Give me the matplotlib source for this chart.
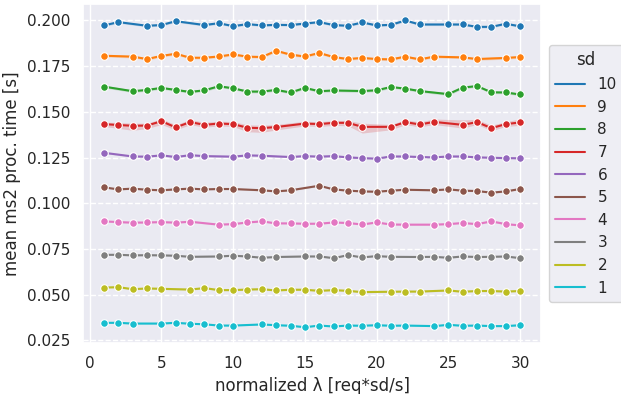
import numpy as np
import matplotlib
matplotlib.use("Agg")
import matplotlib.pyplot as plt
import seaborn as sns
from matplotlib.lines import Line2D

# x positions per sd (some lambda values missing per series)
x_sd10 = [1, 2, 4, 5, 6, 8, 9, 10, 11, 12, 13, 14, 15, 16, 17, 18, 19, 20, 21, 22, 23, 25, 26, 27, 28, 29, 30]
y_sd10 = [0.1973, 0.1991, 0.1971, 0.1975, 0.1996, 0.1975, 0.1985, 0.1969, 0.1980, 0.1973, 0.1976, 0.1975, 0.1983,
          0.1991, 0.1975, 0.1971, 0.1989, 0.1973, 0.1976, 0.2000, 0.1978, 0.1978, 0.1978, 0.1965, 0.1965, 0.1982, 0.1968]

x_sd9 = [1, 3, 4, 5, 6, 7, 8, 9, 10, 11, 12, 13, 14, 15, 16, 17, 18, 19, 20, 21, 22, 23, 24, 26, 27, 29, 30]
y_sd9 = [0.1807, 0.1802, 0.1789, 0.1806, 0.1818, 0.1796, 0.1796, 0.1803, 0.1814, 0.1802, 0.1800, 0.1834, 0.1813, 0.1803,
         0.1822, 0.1800, 0.1789, 0.1795, 0.1789, 0.1787, 0.1802, 0.1787, 0.1802, 0.1798, 0.1789, 0.1795, 0.1800]

x_sd8 = [1, 3, 4, 5, 6, 7, 8, 9, 10, 11, 12, 13, 14, 15, 16, 17, 19, 20, 21, 22, 23, 25, 26, 27, 28, 29, 30]
y_sd8 = [0.1638, 0.1613, 0.1620, 0.1631, 0.1620, 0.1609, 0.1618, 0.1640, 0.1629, 0.1611, 0.1611, 0.1620, 0.1606, 0.1631,
         0.1613, 0.1617, 0.1614, 0.1618, 0.1636, 0.1627, 0.1614, 0.1597, 0.1633, 0.1641, 0.1607, 0.1606, 0.1595]

x_sd7 = [1, 2, 3, 4, 5, 6, 7, 8, 9, 10, 11, 12, 13, 15, 16, 17, 18, 19, 21, 22, 23, 24, 26, 27, 28, 29, 30]
y_sd7 = [0.1433, 0.1428, 0.1424, 0.1425, 0.1449, 0.1415, 0.1444, 0.1429, 0.1436, 0.1433, 0.1413, 0.1411, 0.1417, 0.1436,
         0.1433, 0.1440, 0.1440, 0.1418, 0.1418, 0.1444, 0.1431, 0.1445, 0.1429, 0.1444, 0.1411, 0.1433, 0.1442]
# sd=7 has a wider confidence band (above / below the mean)
ci_hi_sd7 = [0.0011, 0.0014, 0.0014, 0.0013, 0.0013, 0.0014, 0.0014, 0.0014, 0.0013, 0.0014, 0.0016, 0.0016, 0.0014, 0.0013,
             0.0013, 0.0013, 0.0013, 0.0020, 0.0013, 0.0013, 0.0014, 0.0016, 0.0027, 0.0014, 0.0016, 0.0013, 0.0020]
ci_lo_sd7 = [0.0013, 0.0018, 0.0025, 0.0016, 0.0018, 0.0014, 0.0014, 0.0013, 0.0013, 0.0013, 0.0022, 0.0023, 0.0016, 0.0013,
             0.0013, 0.0014, 0.0016, 0.0034, 0.0016, 0.0014, 0.0013, 0.0014, 0.0018, 0.0013, 0.0014, 0.0013, 0.0016]

x_sd6 = [1, 3, 4, 5, 6, 7, 8, 10, 11, 12, 14, 15, 16, 17, 18, 19, 20, 21, 22, 23, 24, 25, 26, 27, 28, 29, 30]
y_sd6 = [0.1276, 0.1256, 0.1255, 0.1262, 0.1253, 0.1263, 0.1258, 0.1255, 0.1262, 0.1260, 0.1253, 0.1258,
         0.1255, 0.1258, 0.1251, 0.1247, 0.1244, 0.1256, 0.1256, 0.1253, 0.1251, 0.1256, 0.1256, 0.1251, 0.1249, 0.1247, 0.1246]

x_sd5 = [1, 2, 3, 4, 5, 6, 7, 8, 9, 10, 12, 13, 14, 16, 17, 18, 19, 20, 21, 22, 24, 25, 26, 27, 28, 29, 30]
y_sd5 = [0.1087, 0.1076, 0.1080, 0.1074, 0.1071, 0.1076, 0.1080, 0.1076, 0.1078, 0.1078, 0.1071, 0.1065, 0.1071,
         0.1096, 0.1076, 0.1069, 0.1065, 0.1063, 0.1069, 0.1074, 0.1071, 0.1076, 0.1069, 0.1067, 0.1058, 0.1065, 0.1078]

x_sd4 = [1, 2, 3, 4, 5, 6, 7, 9, 10, 11, 12, 13, 14, 15, 16, 17, 18, 19, 20, 21, 22, 24, 25, 26, 27, 28, 29, 30]
y_sd4 = [0.0901, 0.0897, 0.0894, 0.0895, 0.0897, 0.0894, 0.0899, 0.0883, 0.0886, 0.0895, 0.0901, 0.0890, 0.0890, 0.0888,
         0.0888, 0.0895, 0.0892, 0.0884, 0.0895, 0.0884, 0.0883, 0.0883, 0.0886, 0.0892, 0.0886, 0.0901, 0.0886, 0.0879]

x_sd3 = [1, 2, 3, 4, 5, 6, 7, 9, 10, 11, 12, 13, 15, 16, 17, 18, 19, 20, 21, 23, 24, 25, 26, 27, 28, 29, 30]
y_sd3 = [0.0718, 0.0718, 0.0715, 0.0716, 0.0715, 0.0713, 0.0707, 0.0709, 0.0713, 0.0709, 0.0702, 0.0706, 0.0709,
         0.0709, 0.0700, 0.0716, 0.0704, 0.0711, 0.0707, 0.0706, 0.0707, 0.0702, 0.0709, 0.0706, 0.0707, 0.0709, 0.0700]

x_sd2 = [1, 2, 3, 4, 5, 7, 8, 9, 10, 11, 12, 13, 14, 15, 16, 17, 18, 19, 21, 22, 23, 25, 26, 27, 28, 29, 30]
y_sd2 = [0.0539, 0.0541, 0.0530, 0.0534, 0.0532, 0.0528, 0.0536, 0.0525, 0.0525, 0.0528, 0.0530, 0.0523, 0.0527, 0.0527,
         0.0521, 0.0525, 0.0521, 0.0514, 0.0516, 0.0517, 0.0517, 0.0523, 0.0516, 0.0520, 0.0520, 0.0517, 0.0520]

x_sd1 = [1, 2, 3, 5, 6, 7, 8, 9, 10, 12, 13, 14, 15, 16, 17, 18, 19, 20, 21, 22, 24, 25, 26, 27, 28, 29, 30]
y_sd1 = [0.0346, 0.0346, 0.0342, 0.0342, 0.0346, 0.0341, 0.0338, 0.0331, 0.0331, 0.0337, 0.0333, 0.0330, 0.0322,
         0.0331, 0.0326, 0.0331, 0.0330, 0.0333, 0.0330, 0.0331, 0.0328, 0.0335, 0.0330, 0.0331, 0.0328, 0.0328, 0.0333]

sd_levels = [1, 2, 3, 4, 5, 6, 7, 8, 9, 10]
xs = [x_sd1, x_sd2, x_sd3, x_sd4, x_sd5, x_sd6, x_sd7, x_sd8, x_sd9, x_sd10]
ys = [y_sd1, y_sd2, y_sd3, y_sd4, y_sd5, y_sd6, y_sd7, y_sd8, y_sd9, y_sd10]
# approx half width of the confidence band for the other series
ci_half = [0.0003, 0.0004, 0.0003, 0.0004, 0.0004, 0.0004, None, 0.0007, 0.0007, 0.0006]

sns.set_theme(style="darkgrid")
colores = sns.color_palette("tab10", 10)
# sd=1 -> cyan ... sd=10 -> blue (tab10 order reversed)
colores = colores[::-1]

fig, ax = plt.subplots(figsize=(6.21, 3.94), dpi=100)
fig.subplots_adjust(left=0.134, right=0.871, top=0.99, bottom=0.129)

for sd, x, y, c, hw in zip(sd_levels, xs, ys, colores, ci_half):
    x = np.array(x)
    y = np.array(y)
    if sd == 7:
        lo = y - np.array(ci_lo_sd7)
        hi = y + np.array(ci_hi_sd7)
    else:
        lo, hi = y - hw, y + hw
    ax.fill_between(x, lo, hi, color=c, alpha=0.2, linewidth=0)
    ax.plot(x, y, color=c, linewidth=1.5, marker='o', markersize=5.5,
            markeredgecolor='white', markeredgewidth=0.8)

ax.yaxis.grid(True, linestyle='--')
ax.xaxis.grid(True, linestyle='-')
ax.set_xticks([0, 5, 10, 15, 20, 25, 30])
ax.set_xlabel('normalized λ [req*sd/s]')
ax.set_ylabel('mean ms2 proc. time [s]')

handles = [Line2D([0], [0], color=c, linewidth=1.5) for c in colores[::-1]]
etiquetas = [str(s) for s in sd_levels[::-1]]
ax.legend(handles, etiquetas, title='sd', loc='center left', bbox_to_anchor=(1.0, 0.5))

plt.savefig('out.png', dpi=100)
